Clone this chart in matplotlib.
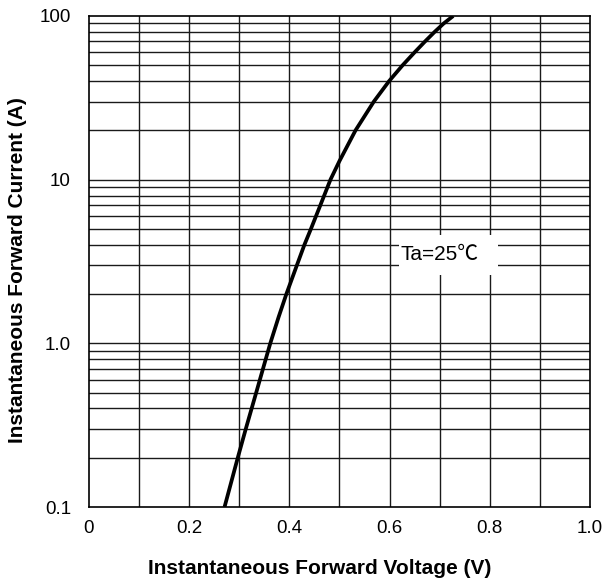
import numpy as np
import matplotlib.pyplot as plt
from matplotlib.patches import Rectangle

# forward characteristic (Ta = 25 C)
voltage = [0.2706, 0.297, 0.313, 0.3247, 0.3338, 0.3474, 0.3619, 0.3786, 0.394, 0.415,
           0.430, 0.443, 0.462, 0.482, 0.500, 0.532, 0.5686, 0.599, 0.626, 0.650,
           0.671, 0.690, 0.708, 0.727]
current = [0.1, 0.2, 0.3, 0.4, 0.5, 0.7, 1.0, 1.45, 2, 3,
           4, 5, 7, 10, 13, 20, 30, 40, 50, 60,
           70, 80, 90, 100]

xticks = [0, 0.2, 0.4, 0.6, 0.8, 1.0]
xticklabels = ['0', '0.2', '0.4', '0.6', '0.8', '1.0']
yticks = [0.1, 1, 10, 100]
yticklabels = ['0.1', '1.0', '10', '100']

plt.rcParams['font.family'] = ['Liberation Sans', 'Noto Sans CJK SC', 'DejaVu Sans']

fig = plt.figure(figsize=(6.02, 5.86), dpi=100)
ax = fig.add_axes([0.1478, 0.1348, 0.8322, 0.8379])

ax.set_yscale('log')
ax.set_xlim(0, 1.0)
ax.set_ylim(0.1, 100)

# grid: every 0.1 V, and 1..9 in each decade
for v in np.arange(0.1, 1.0, 0.1):
    ax.axvline(v, color='#1a1a1a', lw=1.0, zorder=1)
for dec in [0.1, 1, 10]:
    for m in range(1, 10):
        y = dec * m
        if 0.1 < y < 100:
            ax.axhline(y, color='#1a1a1a', lw=1.0, zorder=1)

ax.plot(voltage, current, color='black', lw=2.7, zorder=3,
        solid_capstyle='butt', solid_joinstyle='round')

# label box hiding the grid
ax.add_patch(Rectangle((0.619, 0.4725), 0.197, 0.0815, transform=ax.transAxes,
                       facecolor='white', edgecolor='none', zorder=2))
ax.text(0.622, 0.514, 'Ta=25℃', transform=ax.transAxes, fontsize=15,
        va='center', ha='left', zorder=4)

ax.set_xticks(xticks)
ax.set_xticklabels(xticklabels)
ax.set_yticks(yticks)
ax.set_yticklabels(yticklabels)
ax.yaxis.set_minor_locator(plt.NullLocator())
ax.tick_params(axis='both', length=0, labelsize=13.5)
ax.tick_params(axis='x', pad=9)
ax.tick_params(axis='y', pad=13)

for s in ax.spines.values():
    s.set_linewidth(1.2)
    s.set_color('black')
    s.set_zorder(5)

fig.text(320 / 602, 1 - 568 / 586, 'Instantaneous Forward Voltage (V)',
         fontsize=15, fontweight='bold', ha='center', va='center')
fig.text(18 / 602, 1 - 270 / 586, 'Instantaneous Forward Current (A)',
         fontsize=15, fontweight='bold', ha='center', va='center', rotation=90)

fig.savefig('out.png', dpi=100)
